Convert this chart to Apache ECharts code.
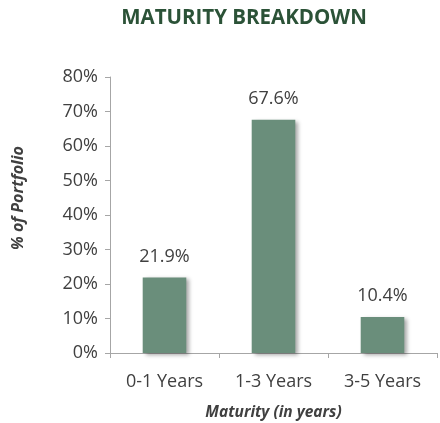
<!DOCTYPE html>
<html><head><meta charset="utf-8">
<script src="https://cdn.jsdelivr.net/npm/echarts@6/dist/echarts.min.js"></script>
<style>html,body{margin:0;padding:0;background:#fff}#c{width:440px;height:423px}</style>
</head><body><div id="c"></div>
<script>
const categories = ['0-1 Years', '1-3 Years', '3-5 Years'];
const values = [21.9, 67.6, 10.4];
const titleText = 'MATURITY BREAKDOWN';
const xName = 'Maturity (in years)';
const yName = '% of Portfolio';

const chart = echarts.init(document.getElementById('c'));
const FONT = 'Open Sans';
chart.setOption({
  animation: false,
  title: {
    text: titleText, left: 239, top: 3, textAlign: 'center',
    textStyle: { fontFamily: FONT, fontWeight: 'bold', fontSize: 20.5, color: '#2b5237' }
  },
  grid: { left: 110, right: 3, top: 77, bottom: 70, outerBoundsMode: 'none', containLabel: false },
  xAxis: {
    type: 'category', data: categories,
    name: xName, nameLocation: 'middle', nameGap: 52,
    nameTextStyle: { fontFamily: FONT, fontStyle: 'italic', fontWeight: 'bold', fontSize: 15.5, color: '#404040' },
    axisLine: { lineStyle: { color: '#a6a6a6', width: 1 } },
    axisTick: { show: true, alignWithLabel: false, length: 5, lineStyle: { color: '#a6a6a6' } },
    axisLabel: { fontFamily: FONT, fontSize: 18, color: '#404040', margin: 20 }
  },
  yAxis: {
    type: 'value', min: 0, max: 80, interval: 10,
    axisLine: { show: true, lineStyle: { color: '#a6a6a6', width: 1 } },
    axisTick: { show: true, inside: false, length: 5, lineStyle: { color: '#a6a6a6' } },
    splitLine: { show: false },
    axisLabel: { fontFamily: FONT, fontSize: 18, color: '#404040', margin: 12, formatter: v => v + '%' }
  },
  graphic: [{
    type: 'text', x: 18, y: 198, rotation: Math.PI / 2,
    style: { text: yName, fontFamily: FONT, fontStyle: 'italic', fontWeight: 'bold', fontSize: 16, fill: '#404040', align: 'center', verticalAlign: 'middle' }
  }],
  series: [{
    type: 'bar', data: values, barWidth: '40%',
    itemStyle: { color: '#6a8e7b', shadowBlur: 4, shadowOffsetX: 3, shadowOffsetY: 2, shadowColor: 'rgba(0,0,0,0.35)' },
    label: { show: true, position: 'top', distance: 12, fontFamily: FONT, fontSize: 18, color: '#404040', formatter: p => p.value.toFixed(1) + '%' }
  }]
});
</script></body></html>
